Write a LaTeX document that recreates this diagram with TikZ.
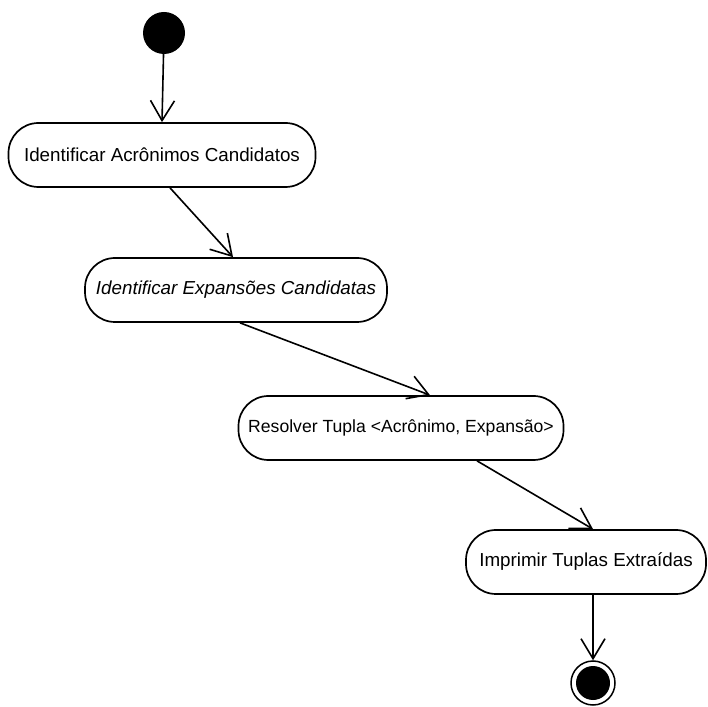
\documentclass[tikz,border=0pt]{standalone}
\usepackage{fontspec}
\setmainfont{Liberation Sans}
\usetikzlibrary{arrows.meta}
\begin{document}
\begin{tikzpicture}[x=1pt,y=1pt,
  activity/.style={draw, line width=1.7pt, rounded corners=30pt, inner sep=0pt,
    font=\fontsize{18.8}{21}\selectfont, minimum height=64pt},
  flow/.style={line width=1.6pt, -{Straight Barb[length=20pt,width=24pt,line width=1.6pt]}},
  startstate/.style={circle, fill=black, minimum size=42pt, inner sep=0pt},
  finalring/.style={circle, draw, line width=1.5pt, minimum size=44pt, inner sep=0pt},
  finalcore/.style={circle, fill=black, minimum size=34pt, inner sep=0pt}
]
\useasboundingbox (0,0) rectangle (708,706);

% initial and final states
\node[startstate] (start) at (164,673) {};
\node[finalring] (final) at (593,23) {};
\node[finalcore] (finaldot) at (final.center) {};

% activities
\node[activity, minimum width=307pt] (n1) at (162,551) {Identificar Acrônimos Candidatos};
\node[activity, minimum width=302pt] (n2) at (236,416) {\itshape Identificar Expansões Candidatas};
\node[activity, minimum width=325pt, font=\fontsize{17.6}{20}\selectfont] (n3) at (401,278) {Resolver Tupla <Acrônimo, Expansão>};
\node[activity, minimum width=240pt] (n4) at (586,144) {Imprimir Tuplas Extraídas};

% transitions
\draw[flow] (start) -- (n1.north);
\draw[flow] ([xshift=8pt]n1.south) -- ([xshift=-3pt]n2.north);
\draw[flow] ([xshift=4pt]n2.south) -- ([xshift=29pt]n3.north);
\draw[flow] ([xshift=76pt]n3.south) -- ([xshift=7pt]n4.north);
\draw[flow] ([xshift=7pt]n4.south) -- (final.north);
\end{tikzpicture}
\end{document}
